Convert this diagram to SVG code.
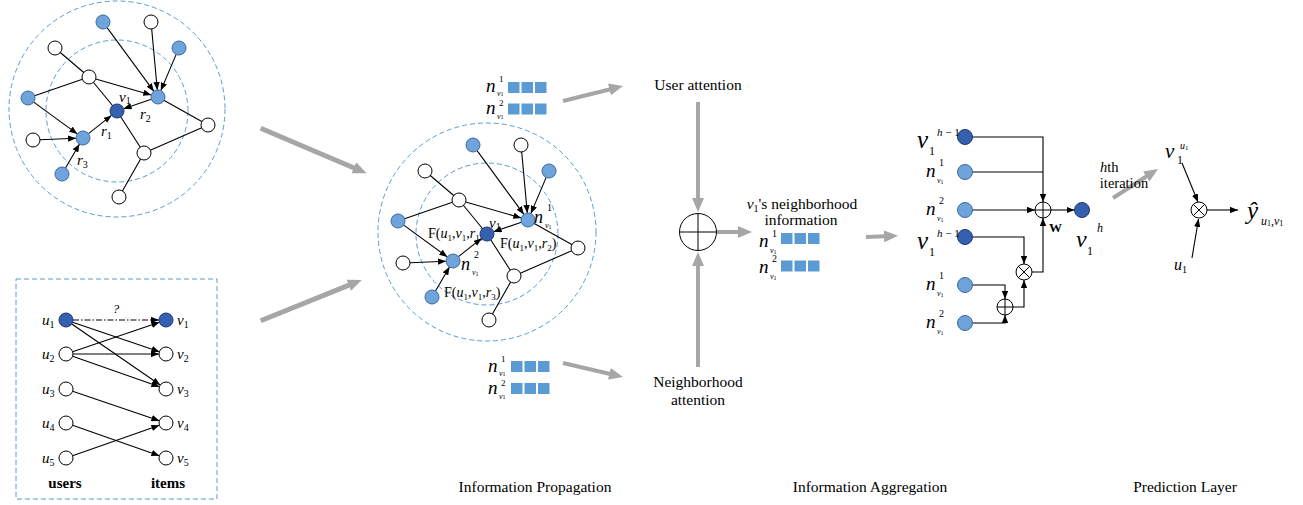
<svg xmlns="http://www.w3.org/2000/svg" width="1303" height="505" viewBox="0 0 1303 505">
<defs>
<style>
.t{font-family:"Liberation Serif","Times New Roman",serif;fill:#000}
.i{font-style:italic}
.b{font-weight:bold}
.e{stroke:#000;stroke-width:1.1;fill:none}
.ea{stroke:#000;stroke-width:1.1;fill:none;marker-end:url(#ah)}
.g5{stroke:#a6a6a6;stroke-width:5;fill:none;marker-end:url(#gh)}
.g4{stroke:#a6a6a6;stroke-width:4;fill:none;marker-end:url(#gh)}
.dc{stroke:#5b9bd5;stroke-width:1;fill:none;stroke-dasharray:5,3}
.nw{fill:#fff;stroke:#000;stroke-width:1}
.nl{fill:#6fa3dc;stroke:#3d6a9c;stroke-width:1}
.nd{fill:#3560b0;stroke:#1c3772;stroke-width:1}
.sq{fill:#5b9bd5}
.op{fill:#fff;stroke:#000;stroke-width:1}
</style>
<marker id="ah" viewBox="0 0 10 8" refX="10" refY="4" markerWidth="8" markerHeight="6.4" markerUnits="userSpaceOnUse" orient="auto"><path d="M0,0 L10,4 L0,8 z" fill="#000"/></marker>
<marker id="gh" viewBox="0 0 14 12" refX="1" refY="6" markerWidth="14" markerHeight="12" markerUnits="userSpaceOnUse" orient="auto"><path d="M0,0 L14,6 L0,12 z" fill="#a6a6a6"/></marker>
</defs>
<rect width="1303" height="505" fill="#fff"/>

<g id="frames">
<circle class="dc" cx="117" cy="109" r="108"/>
<circle class="dc" cx="117" cy="111" r="71"/>
<circle class="dc" cx="487" cy="232" r="109"/>
<circle class="dc" cx="487" cy="234" r="71"/>
<rect class="dc" x="16" y="279" width="201" height="220" stroke="#7fa6cf"/>
</g>

<g id="connectors">
<g id="edges-left">
<path class="e" d="M55,48 L89,77 M28,98 L89,77 M89,77 L117,111 M158,97 L208,125 M117,111 L144,153 M144,153 L208,125 M144,153 L119,197"/>
<path class="ea" d="M107.1,27.6 L153.9,91.4"/>
<path class="ea" d="M151.7,29 L157.3,90"/>
<path class="ea" d="M176.2,54.4 L160.8,90.6"/>
<path class="ea" d="M95.7,79 L151.3,95"/>
<path class="ea" d="M151.4,99.3 L123.6,108.7"/>
<path class="ea" d="M33.7,102.1 L77.3,133.9"/>
<path class="ea" d="M40,139.7 L76,138.3"/>
<path class="ea" d="M65.5,168 L79.5,144"/>
<path class="ea" d="M88.5,133.6 L111.5,115.4"/>
</g>
<g id="edges-mid" transform="translate(370,123)">
<path class="e" d="M55,48 L89,77 M28,98 L89,77 M89,77 L117,111 M158,97 L208,125 M117,111 L144,153 M144,153 L208,125 M144,153 L119,197"/>
<path class="ea" d="M107.1,27.6 L153.9,91.4"/>
<path class="ea" d="M151.7,29 L157.3,90"/>
<path class="ea" d="M176.2,54.4 L160.8,90.6"/>
<path class="ea" d="M95.7,79 L151.3,95"/>
<path class="ea" d="M151.4,99.3 L123.6,108.7"/>
<path class="ea" d="M33.7,102.1 L77.3,133.9"/>
<path class="ea" d="M40,139.7 L76,138.3"/>
<path class="ea" d="M65.5,168 L79.5,144"/>
<path class="ea" d="M88.5,133.6 L111.5,115.4"/>
</g>
<g id="edges-bipartite">
<path class="ea" d="M73,320 L159,320" stroke-dasharray="6,2,1.5,2"/>
<path class="ea" d="M72.6,322.3 L159.4,351.7"/>
<path class="ea" d="M71.8,324 L160.2,385"/>
<path class="ea" d="M72.6,351.7 L159.4,322.3"/>
<path class="ea" d="M73,354 L159,354"/>
<path class="ea" d="M72.6,356.3 L159.4,386.7"/>
<path class="ea" d="M72.6,391.3 L159.4,420.7"/>
<path class="ea" d="M72.6,425.3 L159.4,455.7"/>
<path class="ea" d="M72.6,455.7 L159.4,425.3"/>
</g>
<g id="grey-arrows">
<path class="g5" d="M260.7,128.3 L354.7,168.2"/>
<path class="g5" d="M260.7,320.7 L349.6,284.9"/>
<path class="g4" d="M563,101 L610.4,89.2"/>
<path class="g4" d="M563,363 L610.3,374"/>
<path class="g4" d="M698,102 L698,199"/>
<path class="g4" d="M698,367 L698,265"/>
<path class="g4" d="M717,232 L739,232"/>
<path class="g4" d="M866,237 L885,236.3"/>
<path class="g4" d="M1113,198 L1147.1,176"/>
</g>
<g id="edges-aggregation">
<path class="ea" d="M972.5,137 L1043,137 L1043,202"/>
<path class="e" d="M972.5,172 L1043,172"/>
<path class="ea" d="M972.5,210 L1035,210"/>
<path class="ea" d="M1051,210 L1074.5,210"/>
<path class="ea" d="M972.5,237 L1024,237 L1024,264"/>
<path class="ea" d="M1032,272 L1043,272 L1043,218"/>
<path class="ea" d="M972.5,285 L1005,285 L1005,299"/>
<path class="ea" d="M972.5,323 L1005,323 L1005,315"/>
<path class="ea" d="M1013,307 L1024,307 L1024,280"/>
</g>
<g id="edges-prediction">
<path class="ea" d="M1182,163 L1198,202"/>
<path class="ea" d="M1192,258 L1198.5,219"/>
<path class="ea" d="M1207,210 L1238,210"/>
</g>
</g>

<g id="graph-left">
<g id="L-n1"><circle class="nl" cx="103" cy="22" r="7"/></g>
<g id="L-n2"><circle class="nw" cx="151" cy="22" r="7"/></g>
<g id="L-n3"><circle class="nl" cx="179" cy="48" r="7"/></g>
<g id="L-n4"><circle class="nw" cx="55" cy="48" r="7"/></g>
<g id="L-n5"><circle class="nw" cx="89" cy="77" r="7"/></g>
<g id="L-n6"><circle class="nl" cx="158" cy="97" r="7"/></g>
<g id="L-n7"><circle class="nl" cx="28" cy="98" r="7"/></g>
<g id="L-v1"><circle class="nd" cx="117" cy="111" r="7"/><text class="t i" x="119" y="102" font-size="15">v<tspan font-style="normal" font-size="10" dy="2">1</tspan></text></g>
<g id="L-n9"><circle class="nw" cx="208" cy="125" r="7"/></g>
<g id="L-n10"><circle class="nw" cx="33" cy="140" r="7"/></g>
<g id="L-n11"><circle class="nl" cx="83" cy="138" r="7"/></g>
<g id="L-n12"><circle class="nw" cx="144" cy="153" r="7"/></g>
<g id="L-n13"><circle class="nl" cx="62" cy="174" r="7"/></g>
<g id="L-n14"><circle class="nw" cx="119" cy="197" r="7"/></g>
<g id="L-labels">
<text class="t i" x="140" y="119" font-size="15">r<tspan font-style="normal" font-size="10" dy="3">2</tspan></text>
<text class="t i" x="101" y="136" font-size="15">r<tspan font-style="normal" font-size="10" dy="3">1</tspan></text>
<text class="t i" x="77" y="165" font-size="15">r<tspan font-style="normal" font-size="10" dy="3">3</tspan></text>
</g>
</g>

<g id="graph-mid">
<g transform="translate(370,123)">
<g id="M-n1"><circle class="nl" cx="103" cy="22" r="7"/></g>
<g id="M-n2"><circle class="nw" cx="151" cy="22" r="7"/></g>
<g id="M-n3"><circle class="nl" cx="179" cy="48" r="7"/></g>
<g id="M-n4"><circle class="nw" cx="55" cy="48" r="7"/></g>
<g id="M-n5"><circle class="nw" cx="89" cy="77" r="7"/></g>
<g id="M-n6"><circle class="nl" cx="158" cy="97" r="7"/></g>
<g id="M-n7"><circle class="nl" cx="28" cy="98" r="7"/></g>
<g id="M-n9"><circle class="nw" cx="208" cy="125" r="7"/></g>
<g id="M-n10"><circle class="nw" cx="33" cy="140" r="7"/></g>
<g id="M-n11"><circle class="nl" cx="83" cy="138" r="7"/></g>
<g id="M-n12"><circle class="nw" cx="144" cy="153" r="7"/></g>
<g id="M-n13"><circle class="nl" cx="62" cy="174" r="7"/></g>
<g id="M-n14"><circle class="nw" cx="119" cy="197" r="7"/></g>
</g>
<g id="M-labels">
<text class="t" x="428" y="238" font-size="14">F(<tspan class="i">u</tspan><tspan font-size="9" dy="3">1</tspan><tspan dy="-3">,</tspan><tspan class="i">v</tspan><tspan font-size="9" dy="3">1</tspan><tspan dy="-3">,</tspan><tspan class="i">r</tspan><tspan font-size="9" dy="3">1</tspan><tspan dy="-3">)</tspan></text>
<text class="t" x="500" y="248" font-size="14">F(<tspan class="i">u</tspan><tspan font-size="9" dy="3">1</tspan><tspan dy="-3">,</tspan><tspan class="i">v</tspan><tspan font-size="9" dy="3">1</tspan><tspan dy="-3">,</tspan><tspan class="i">r</tspan><tspan font-size="9" dy="3">2</tspan><tspan dy="-3">)</tspan></text>
<text class="t" x="444" y="297" font-size="14">F(<tspan class="i">u</tspan><tspan font-size="9" dy="3">1</tspan><tspan dy="-3">,</tspan><tspan class="i">v</tspan><tspan font-size="9" dy="3">1</tspan><tspan dy="-3">,</tspan><tspan class="i">r</tspan><tspan font-size="9" dy="3">3</tspan><tspan dy="-3">)</tspan></text>
<text class="t i" x="534" y="223" font-size="18">n</text>
<text class="t" x="547" y="211" font-size="10">1</text>
<text class="t i" x="545" y="228" font-size="8">v<tspan font-style="normal" font-size="6" dy="1">1</tspan></text>
<text class="t i" x="461" y="270" font-size="18">n</text>
<text class="t" x="474" y="258" font-size="10">2</text>
<text class="t i" x="472" y="275" font-size="8">v<tspan font-style="normal" font-size="6" dy="1">1</tspan></text>
</g>
<g id="M-v1"><circle class="nd" cx="487" cy="234" r="7"/><text class="t i" x="489" y="228" font-size="15">v<tspan font-style="normal" font-size="10" dy="2">1</tspan></text></g>
</g>

<g id="bipartite">
<g id="u1"><circle class="nd" cx="66" cy="320" r="7"/><text class="t i" x="42" y="325" font-size="15">u<tspan font-style="normal" font-size="10" dy="3">1</tspan></text></g>
<g id="u2"><circle class="nw" cx="66" cy="354" r="7"/><text class="t i" x="42" y="359" font-size="15">u<tspan font-style="normal" font-size="10" dy="3">2</tspan></text></g>
<g id="u3"><circle class="nw" cx="66" cy="389" r="7"/><text class="t i" x="42" y="394" font-size="15">u<tspan font-style="normal" font-size="10" dy="3">3</tspan></text></g>
<g id="u4"><circle class="nw" cx="66" cy="423" r="7"/><text class="t i" x="42" y="428" font-size="15">u<tspan font-style="normal" font-size="10" dy="3">4</tspan></text></g>
<g id="u5"><circle class="nw" cx="66" cy="458" r="7"/><text class="t i" x="42" y="463" font-size="15">u<tspan font-style="normal" font-size="10" dy="3">5</tspan></text></g>
<g id="v1"><circle class="nd" cx="166" cy="320" r="7"/><text class="t i" x="177" y="325" font-size="15">v<tspan font-style="normal" font-size="10" dy="3">1</tspan></text></g>
<g id="v2"><circle class="nw" cx="166" cy="354" r="7"/><text class="t i" x="177" y="359" font-size="15">v<tspan font-style="normal" font-size="10" dy="3">2</tspan></text></g>
<g id="v3"><circle class="nw" cx="166" cy="389" r="7"/><text class="t i" x="177" y="394" font-size="15">v<tspan font-style="normal" font-size="10" dy="3">3</tspan></text></g>
<g id="v4"><circle class="nw" cx="166" cy="423" r="7"/><text class="t i" x="177" y="428" font-size="15">v<tspan font-style="normal" font-size="10" dy="3">4</tspan></text></g>
<g id="v5"><circle class="nw" cx="166" cy="458" r="7"/><text class="t i" x="177" y="463" font-size="15">v<tspan font-style="normal" font-size="10" dy="3">5</tspan></text></g>
<text class="t i" x="116" y="313" font-size="13" text-anchor="middle">?</text>
<text class="t b" x="65" y="488" font-size="15" text-anchor="middle">users</text>
<text class="t b" x="168" y="488" font-size="15" text-anchor="middle">items</text>
</g>

<g id="emb-top">
<rect class="sq" x="508" y="82" width="11.5" height="11"/><rect class="sq" x="521.5" y="82" width="11.5" height="11"/><rect class="sq" x="535" y="82" width="11.5" height="11"/>
<rect class="sq" x="508" y="103.5" width="11.5" height="11"/><rect class="sq" x="521.5" y="103.5" width="11.5" height="11"/><rect class="sq" x="535" y="103.5" width="11.5" height="11"/>
<text class="t i" x="486" y="92" font-size="19">n</text><text class="t" x="499" y="82" font-size="9">1</text><text class="t i" x="497" y="96" font-size="8">v<tspan font-style="normal" font-size="6">1</tspan></text>
<text class="t i" x="486" y="114" font-size="19">n</text><text class="t" x="499" y="106" font-size="9">2</text><text class="t i" x="497" y="119" font-size="8">v<tspan font-style="normal" font-size="6">1</tspan></text>
</g>
<g id="emb-bottom">
<rect class="sq" x="511" y="361" width="11.5" height="11"/><rect class="sq" x="524.5" y="361" width="11.5" height="11"/><rect class="sq" x="538" y="361" width="11.5" height="11"/>
<rect class="sq" x="511" y="383" width="11.5" height="11"/><rect class="sq" x="524.5" y="383" width="11.5" height="11"/><rect class="sq" x="538" y="383" width="11.5" height="11"/>
<text class="t i" x="488" y="372" font-size="19">n</text><text class="t" x="501" y="362" font-size="9">1</text><text class="t i" x="499" y="376" font-size="8">v<tspan font-style="normal" font-size="6">1</tspan></text>
<text class="t i" x="488" y="394" font-size="19">n</text><text class="t" x="501" y="386" font-size="9">2</text><text class="t i" x="499" y="399" font-size="8">v<tspan font-style="normal" font-size="6">1</tspan></text>
</g>
<g id="emb-mid">
<rect class="sq" x="781" y="233" width="11.5" height="11"/><rect class="sq" x="794.5" y="233" width="11.5" height="11"/><rect class="sq" x="808" y="233" width="11.5" height="11"/>
<rect class="sq" x="781" y="260.5" width="11.5" height="11"/><rect class="sq" x="794.5" y="260.5" width="11.5" height="11"/><rect class="sq" x="808" y="260.5" width="11.5" height="11"/>
<text class="t i" x="759" y="247" font-size="19">n</text><text class="t" x="772" y="237" font-size="10">1</text><text class="t i" x="770" y="253" font-size="8">v<tspan font-style="normal" font-size="6" dy="1">1</tspan></text>
<text class="t i" x="759" y="273" font-size="19">n</text><text class="t" x="772" y="262" font-size="10">2</text><text class="t i" x="770" y="279" font-size="8">v<tspan font-style="normal" font-size="6" dy="1">1</tspan></text>
<text class="t" x="802" y="209" font-size="15.5" text-anchor="middle"><tspan class="i">v</tspan><tspan font-size="10" dy="3">1</tspan><tspan dy="-3">'s neighborhood</tspan></text>
<text class="t" x="801" y="225" font-size="15.5" text-anchor="middle">information</text>
</g>

<g id="user-attention"><text class="t" x="698" y="90" font-size="15.5" text-anchor="middle">User attention</text></g>
<g id="neighborhood-attention"><text class="t" x="698" y="387" font-size="15.5" text-anchor="middle">Neighborhood</text><text class="t" x="698" y="405" font-size="15.5" text-anchor="middle">attention</text></g>
<g id="sum-big"><circle class="op" cx="698" cy="232" r="18.5"/><path d="M679.5,232 H716.5 M698,213.5 V250.5" stroke="#000" stroke-width="1"/></g>

<g id="aggregation">
<g id="A-v1h1"><circle class="nd" cx="965" cy="137" r="7.5"/>
<text class="t i" x="917" y="148" font-size="25">v</text><text class="t" x="929" y="155" font-size="12">1</text><text class="t" x="937" y="136" font-size="11"><tspan class="i">h</tspan> − 1</text></g>
<g id="A-n1"><circle class="nl" cx="965" cy="172" r="7.5"/>
<text class="t i" x="926" y="177" font-size="19">n</text><text class="t" x="939" y="166" font-size="10">1</text><text class="t i" x="937" y="183" font-size="8">v<tspan font-style="normal" font-size="6" dy="1">1</tspan></text></g>
<g id="A-n2"><circle class="nl" cx="965" cy="210" r="7.5"/>
<text class="t i" x="926" y="215" font-size="19">n</text><text class="t" x="939" y="204" font-size="10">2</text><text class="t i" x="937" y="221" font-size="8">v<tspan font-style="normal" font-size="6" dy="1">1</tspan></text></g>
<g id="A-v1h1b"><circle class="nd" cx="965" cy="237" r="7.5"/>
<text class="t i" x="917" y="249" font-size="25">v</text><text class="t" x="929" y="256" font-size="12">1</text><text class="t" x="937" y="237" font-size="11"><tspan class="i">h</tspan> − 1</text></g>
<g id="A-n1b"><circle class="nl" cx="965" cy="285" r="7.5"/>
<text class="t i" x="926" y="290" font-size="19">n</text><text class="t" x="939" y="279" font-size="10">1</text><text class="t i" x="937" y="296" font-size="8">v<tspan font-style="normal" font-size="6" dy="1">1</tspan></text></g>
<g id="A-n2b"><circle class="nl" cx="965" cy="323" r="7.5"/>
<text class="t i" x="926" y="328" font-size="19">n</text><text class="t" x="939" y="317" font-size="10">2</text><text class="t i" x="937" y="334" font-size="8">v<tspan font-style="normal" font-size="6" dy="1">1</tspan></text></g>
<g id="A-sum1"><circle class="op" cx="1043" cy="210" r="8"/><path d="M1035,210 H1051 M1043,202 V218" stroke="#000" stroke-width="1"/><text class="t b" x="1049" y="232" font-size="13">W</text></g>
<g id="A-mul"><circle class="op" cx="1024" cy="272" r="8"/><path d="M1018.3,266.3 L1029.7,277.7 M1029.7,266.3 L1018.3,277.7" stroke="#000" stroke-width="1"/></g>
<g id="A-sum2"><circle class="op" cx="1005" cy="307" r="8"/><path d="M997,307 H1013 M1005,299 V315" stroke="#000" stroke-width="1"/></g>
<g id="A-out"><circle class="nd" cx="1082" cy="210" r="7.5"/>
<text class="t i" x="1076" y="247" font-size="24">v</text><text class="t" x="1087" y="255" font-size="12">1</text><text class="t i" x="1097" y="232" font-size="12">h</text></g>
<g id="iteration"><text class="t" x="1100" y="172" font-size="14.5"><tspan class="i">h</tspan>th</text><text class="t" x="1124" y="188" font-size="14.5" text-anchor="middle">iteration</text></g>
</g>

<g id="prediction">
<g id="P-mul"><circle class="op" cx="1199" cy="210" r="8"/><path d="M1193.3,204.3 L1204.7,215.7 M1204.7,204.3 L1193.3,215.7" stroke="#000" stroke-width="1"/></g>
<g id="P-v"><text class="t i" x="1165" y="158" font-size="21">v</text><text class="t" x="1177" y="164" font-size="12">1</text><text class="t i" x="1180" y="149" font-size="10">u<tspan font-style="normal" font-size="7" dy="1">1</tspan></text></g>
<g id="P-u"><text class="t i" x="1174" y="270" font-size="16">u<tspan font-style="normal" font-size="10" dy="3">1</tspan></text></g>
<g id="P-y"><text class="t i" x="1247" y="219" font-size="25">ŷ</text><text class="t i" x="1261" y="225" font-size="12">u<tspan font-style="normal" font-size="8" dy="1">1</tspan><tspan font-style="normal" dy="-1">,</tspan>v<tspan font-style="normal" font-size="8" dy="1">1</tspan></text></g>
</g>

<g id="section-labels">
<text class="t" x="535" y="492" font-size="15.5" text-anchor="middle">Information Propagation</text>
<text class="t" x="870" y="492" font-size="15.5" text-anchor="middle">Information Aggregation</text>
<text class="t" x="1185" y="492" font-size="15.5" text-anchor="middle">Prediction Layer</text>
</g>
</svg>
